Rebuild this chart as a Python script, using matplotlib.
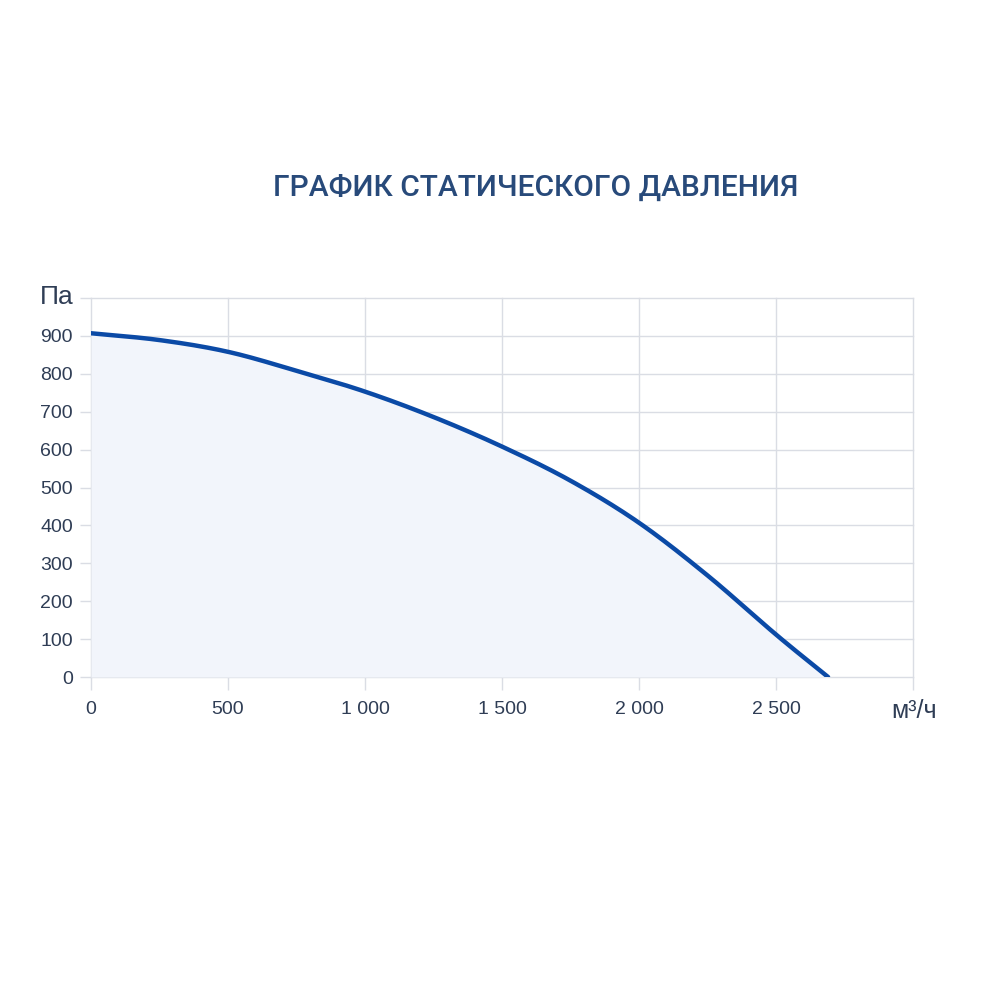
import matplotlib
matplotlib.use("Agg")
import matplotlib.pyplot as plt
import numpy as np

# Data
airflow = [0, 250, 500, 750, 1000, 1250, 1500, 1750, 2000, 2250, 2500, 2690]
pressure = [907, 889, 858, 808, 753, 686, 608, 518, 407, 268, 112, 0]
x_ticks = [0, 500, 1000, 1500, 2000, 2500, 3000]
x_tick_labels = ["0", "500", "1 000", "1 500", "2 000", "2 500", ""]
y_ticks = [0, 100, 200, 300, 400, 500, 600, 700, 800, 900, 1000]
y_tick_labels = ["0", "100", "200", "300", "400", "500", "600", "700", "800", "900", ""]
title = "ГРАФИК СТАТИЧЕСКОГО ДАВЛЕНИЯ"
y_unit = "Па"
x_unit = "м³/ч"

plt.rcParams['font.family'] = ['Liberation Sans', 'DejaVu Sans']

fig = plt.figure(figsize=(10, 10), dpi=100)
fig.patch.set_facecolor("white")

ax = fig.add_axes([0.091, 0.323, 0.822, 0.379])
ax.set_facecolor("white")

xs = np.array(airflow, dtype=float)
ys = np.array(pressure, dtype=float)

def catmull(x, y, n=30):
    px, py = [], []
    X = np.concatenate([[2*x[0]-x[1]], x, [2*x[-1]-x[-2]]])
    Y = np.concatenate([[2*y[0]-y[1]], y, [2*y[-1]-y[-2]]])
    for i in range(1, len(X) - 2):
        t = np.linspace(0, 1, n, endpoint=False)
        for arr, out in ((X, px), (Y, py)):
            p0, p1, p2, p3 = arr[i-1], arr[i], arr[i+1], arr[i+2]
            out.extend(0.5 * ((2*p1) + (-p0 + p2)*t + (2*p0 - 5*p1 + 4*p2 - p3)*t**2 + (-p0 + 3*p1 - 3*p2 + p3)*t**3))
    px.append(x[-1]); py.append(y[-1])
    return np.array(px), np.array(py)

cx, cy = catmull(xs, ys)
ax.fill_between(cx, cy, 0, color="#f2f5fb", zorder=1, linewidth=0)
ax.plot(cx, cy, color="#0b4aa6", linewidth=3.2, solid_capstyle="round", zorder=3)

ax.set_xlim(0, 3000)
ax.set_ylim(0, 1000)
ax.set_xticks(x_ticks)
ax.set_xticklabels(x_tick_labels)
ax.set_yticks(y_ticks)
ax.set_yticklabels(y_tick_labels)

grid_c = "#dadde4"
ax.grid(True, color=grid_c, linewidth=1.0, zorder=0)
for gl in ax.get_xgridlines() + ax.get_ygridlines():
    gl.set_clip_on(False)
for s in ax.spines.values():
    s.set_visible(False)
ax.tick_params(axis="x", length=9, width=1.0, color=grid_c, pad=8, labelsize=14, labelcolor="#2f3d55")
ax.tick_params(axis="y", length=8, width=1.0, color=grid_c, pad=5, labelsize=14, labelcolor="#2f3d55")
ax.set_axisbelow(True)

fig.text(0.536, 0.812, title, ha="center", va="center", fontsize=21.5,
         fontweight="medium", color="#284a7a", family=["Roboto", "DejaVu Sans"])
fig.text(0.057, 0.703, y_unit, ha="center", va="center", fontsize=19, color="#2f3d55")
fig.text(0.914, 0.289, x_unit, ha="center", va="center", fontsize=18, color="#2f3d55")

fig.savefig("out.png", dpi=100, facecolor="white")
